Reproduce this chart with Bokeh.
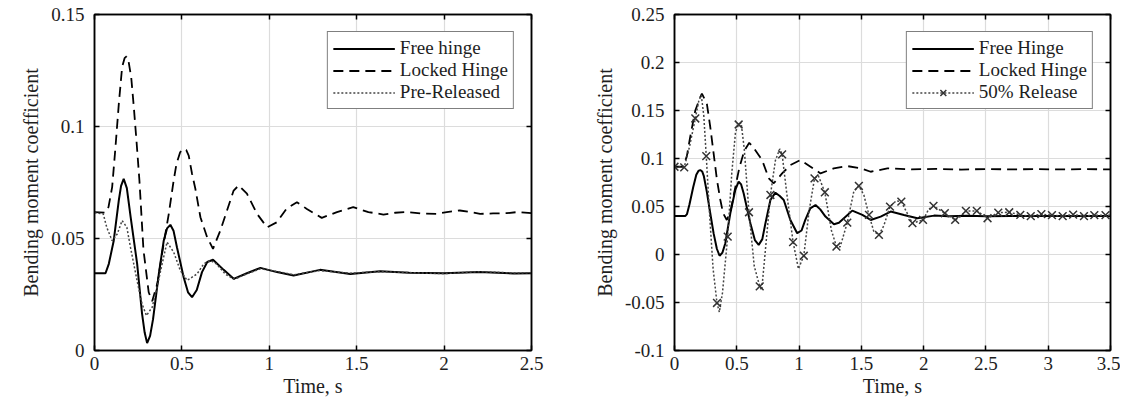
from bokeh.plotting import figure
from bokeh.models import FixedTicker, LinearAxis, Range1d
from bokeh.layouts import row
from bokeh.embed import file_html
from bokeh.resources import INLINE

# ---------------- data: left panel ----------------
left_xticks = [0, 0.5, 1, 1.5, 2, 2.5]
left_xlabels = ["0", "0.5", "1", "1.5", "2", "2.5"]
left_yticks = [0, 0.05, 0.1, 0.15]
left_ylabels = ["0", "0.05", "0.1", "0.15"]

left_free_t = [0, 0.063, 0.082, 0.11, 0.139, 0.152, 0.167, 0.185, 0.206, 0.244, 0.272, 0.287,
               0.301, 0.318, 0.335, 0.368, 0.396, 0.415, 0.434, 0.452, 0.472, 0.51, 0.535,
               0.558, 0.585, 0.615, 0.645, 0.678, 0.739, 0.796, 0.872, 0.949,
               1.044, 1.139, 1.29, 1.463, 1.634, 1.8, 2.0, 2.2, 2.4, 2.5]
left_free_v = [0.0345, 0.0345, 0.0387, 0.049, 0.067, 0.0735, 0.0766, 0.0725, 0.060, 0.0387,
               0.0165, 0.008, 0.0033, 0.0065, 0.014, 0.0342, 0.049, 0.0545, 0.0561, 0.0535,
               0.046, 0.0327, 0.026, 0.0238, 0.027, 0.035, 0.0395, 0.0405, 0.036,
               0.032, 0.0345, 0.0369, 0.035, 0.0335, 0.036, 0.0342, 0.0354, 0.0347, 0.0345,
               0.035, 0.0344, 0.0345]

left_locked_t = [0, 0.06, 0.08, 0.101, 0.12, 0.139, 0.158, 0.172, 0.183, 0.195, 0.21, 0.225,
                 0.24, 0.257, 0.28, 0.31, 0.33, 0.36, 0.39, 0.425, 0.453, 0.469, 0.49, 0.507,
                 0.525, 0.539, 0.558, 0.577, 0.606, 0.644, 0.678, 0.72, 0.758, 0.796, 0.825,
                 0.872, 0.93, 0.987, 1.044, 1.1, 1.158, 1.215, 1.30, 1.387, 1.48, 1.567, 1.653,
                 1.72, 1.787, 1.87, 1.958, 2.015, 2.09, 2.15, 2.206, 2.28, 2.358, 2.42, 2.5]
left_locked_v = [0.0618, 0.0615, 0.064, 0.0729, 0.0908, 0.110, 0.1265, 0.1305, 0.1313, 0.129,
                 0.122, 0.1086, 0.0938, 0.0759, 0.045, 0.026, 0.022, 0.030, 0.045, 0.061,
                 0.076, 0.0833, 0.0885, 0.090, 0.0895, 0.087, 0.0789, 0.0722, 0.0595, 0.0506,
                 0.0454, 0.0536, 0.0625, 0.0714, 0.0737, 0.070, 0.061, 0.055, 0.0573, 0.0635,
                 0.0662, 0.0632, 0.0592, 0.0618, 0.064, 0.0618, 0.0607, 0.0615, 0.0618,
                 0.0612, 0.061, 0.0618, 0.0625, 0.0618, 0.061, 0.0612, 0.0613, 0.0618, 0.0613]

left_pre_t = [0, 0.05, 0.07, 0.101, 0.13, 0.158, 0.185, 0.206, 0.244, 0.272, 0.297, 0.33,
              0.358, 0.387, 0.415, 0.453, 0.491, 0.53, 0.587, 0.625, 0.663, 0.70, 0.75, 0.80,
              0.87, 0.95, 1.05, 1.14, 1.29, 1.46, 1.63, 1.8, 2.0, 2.2, 2.4, 2.5]
left_pre_v = [0.0615, 0.061, 0.055, 0.049, 0.052, 0.058, 0.055, 0.046, 0.031, 0.0208, 0.0156,
              0.0193, 0.0283, 0.0387, 0.0484, 0.0439, 0.0357, 0.0313, 0.0342, 0.0387, 0.0402,
              0.0385, 0.034, 0.0318, 0.0342, 0.0365, 0.0352, 0.0338, 0.0357, 0.0345, 0.0352,
              0.0348, 0.0343, 0.0352, 0.0346, 0.0347]

# ---------------- data: right panel ----------------
right_xticks = [0, 0.5, 1, 1.5, 2, 2.5, 3, 3.5]
right_xlabels = ["0", "0.5", "1", "1.5", "2", "2.5", "3", "3.5"]
right_yticks = [-0.1, -0.05, 0, 0.05, 0.1, 0.15, 0.2, 0.25]
right_ylabels = ["-0.1", "-0.05", "0", "0.05", "0.1", "0.15", "0.2", "0.25"]

right_free_t = [0, 0.086, 0.10, 0.12, 0.15, 0.175, 0.192, 0.207, 0.222, 0.235, 0.26, 0.287,
                0.314, 0.34, 0.362, 0.385, 0.408, 0.448, 0.488, 0.515, 0.535, 0.555, 0.609,
                0.645, 0.676, 0.705, 0.73, 0.77, 0.81, 0.845, 0.877, 0.93, 0.985, 1.02, 1.05,
                1.09, 1.132, 1.17, 1.212, 1.28, 1.32, 1.36, 1.427, 1.508, 1.575, 1.655, 1.735,
                1.842, 1.95, 2.084, 2.2, 2.35, 2.5, 2.7, 2.9, 3.1, 3.3, 3.5]
right_free_v = [0.0402, 0.040, 0.042, 0.052, 0.070, 0.083, 0.087, 0.088, 0.0865, 0.082, 0.065,
                0.043, 0.022, 0.006, -0.0013, 0.002, 0.0118, 0.043, 0.0672, 0.0758, 0.073,
                0.0638, 0.0326, 0.015, 0.010, 0.016, 0.0326, 0.0568, 0.0644, 0.061, 0.0568,
                0.036, 0.0222, 0.025, 0.036, 0.048, 0.0516, 0.047, 0.0395, 0.0316, 0.033,
                0.0378, 0.0457, 0.0412, 0.036, 0.0395, 0.0447, 0.0412, 0.0378, 0.0405, 0.0398,
                0.0403, 0.0399, 0.0402, 0.040, 0.0401, 0.040, 0.040]

right_locked_t = [0, 0.072, 0.10, 0.126, 0.167, 0.207, 0.22, 0.26, 0.287, 0.314, 0.341, 0.368,
                  0.39, 0.42, 0.45, 0.48, 0.52, 0.56, 0.60, 0.63, 0.703, 0.757, 0.797, 0.864,
                  0.931, 1.011, 1.092, 1.172, 1.279, 1.387, 1.494, 1.575, 1.709, 1.9, 2.1, 2.3,
                  2.5, 2.7, 2.9, 3.1, 3.3, 3.5]
right_locked_v = [0.0914, 0.0914, 0.103, 0.1226, 0.150, 0.164, 0.1676, 0.157, 0.133, 0.1053,
                  0.0776, 0.0568, 0.043, 0.036, 0.045, 0.065, 0.090, 0.108, 0.1163, 0.112,
                  0.0984, 0.0794, 0.0742, 0.0845, 0.0932, 0.0984, 0.0914, 0.0845, 0.0897,
                  0.0921, 0.0897, 0.0862, 0.0897, 0.0887, 0.0892, 0.0885, 0.089, 0.0887,
                  0.0889, 0.0886, 0.0889, 0.0887]

right_rel_t = [0, 0.078, 0.12, 0.167, 0.195, 0.215, 0.235, 0.255, 0.28, 0.31, 0.341, 0.36,
               0.385, 0.427, 0.46, 0.49, 0.515, 0.535, 0.56, 0.598, 0.64, 0.684, 0.70, 0.73,
               0.77, 0.81, 0.845, 0.864, 0.90, 0.952, 0.995, 1.038, 1.08, 1.124, 1.155, 1.207,
               1.26, 1.30, 1.33, 1.387, 1.44, 1.48, 1.52, 1.561, 1.60, 1.641, 1.68, 1.73, 1.78,
               1.821, 1.86, 1.91, 1.995, 2.04, 2.079, 2.17, 2.253, 2.30, 2.339, 2.427, 2.513,
               2.599, 2.687, 2.776, 2.86, 2.945, 3.03, 3.116, 3.2, 3.287, 3.37, 3.46, 3.5]
right_rel_v = [0.0914, 0.0908, 0.112, 0.1417, 0.160, 0.166, 0.145, 0.1025, 0.045, -0.015,
               -0.0505, -0.060, -0.040, 0.0187, 0.085, 0.128, 0.1354, 0.137, 0.11, 0.044,
               -0.012, -0.0332, -0.037, 0.005, 0.062, 0.098, 0.110, 0.1043, 0.065, 0.0129,
               -0.015, -0.0013, 0.045, 0.0793, 0.082, 0.0648, 0.025, 0.0083, 0.008, 0.0332,
               0.066, 0.0714, 0.062, 0.0412, 0.024, 0.0205, 0.030, 0.0499, 0.056, 0.0551,
               0.045, 0.0326, 0.036, 0.047, 0.0506, 0.043, 0.036, 0.040, 0.0454, 0.0454,
               0.0378, 0.0436, 0.044, 0.0412, 0.040, 0.042, 0.041, 0.040, 0.0415, 0.040,
               0.041, 0.041, 0.041]

right_mark_t = [0, 0.078, 0.167, 0.255, 0.341, 0.427, 0.515, 0.598, 0.684, 0.77, 0.864, 0.952,
                1.038, 1.124, 1.207, 1.30, 1.387, 1.48, 1.561, 1.641, 1.73, 1.821, 1.91,
                1.995, 2.079, 2.17, 2.253, 2.339, 2.427, 2.513, 2.599, 2.687, 2.776, 2.86,
                2.945, 3.03, 3.116, 3.2, 3.287, 3.37, 3.46]
right_mark_v = [0.0914, 0.0908, 0.1417, 0.1025, -0.0505, 0.0187, 0.1354, 0.044, -0.0332,
                0.062, 0.1043, 0.0129, -0.0013, 0.0793, 0.0648, 0.0083, 0.0332, 0.0714,
                0.0412, 0.0205, 0.0499, 0.0551, 0.0326, 0.036, 0.0506, 0.043, 0.036, 0.0454,
                0.0454, 0.0378, 0.0436, 0.044, 0.0412, 0.040, 0.042, 0.041, 0.040, 0.0415,
                0.040, 0.041, 0.041]

FONT = "Liberation Serif"
TXT = "#1e1e1e"
FS = "19px"


def make_fig(xr, yr, xticks, xlabels, yticks, ylabels, fw, bl, br):
    p = figure(x_range=Range1d(*xr), y_range=Range1d(*yr), frame_width=fw, frame_height=336,
               min_border_left=bl, min_border_right=br, min_border_top=14, min_border_bottom=0,
               output_backend="svg", toolbar_location=None)
    p.outline_line_color = "black"
    p.outline_line_width = 1.5
    p.grid.grid_line_color = "#dcdcdc"
    p.grid.grid_line_width = 1.2
    p.xgrid.ticker = FixedTicker(ticks=xticks)
    p.ygrid.ticker = FixedTicker(ticks=yticks)
    for ax, ticks, labels in ((p.xaxis[0], xticks, xlabels), (p.yaxis[0], yticks, ylabels)):
        ax.ticker = FixedTicker(ticks=ticks)
        ax.major_label_overrides = dict(zip(ticks, labels))
        ax.major_tick_in = 5
        ax.major_tick_out = 0
        ax.minor_tick_line_color = None
        ax.axis_line_width = 1.5
        ax.major_tick_line_width = 1.5
        ax.major_label_text_font = FONT
        ax.major_label_text_font_size = FS
        ax.major_label_text_color = TXT
        ax.axis_label_text_font = FONT
        ax.axis_label_text_font_size = "20px"
        ax.axis_label_text_font_style = "normal"
        ax.axis_label_text_color = TXT
    p.xaxis.axis_label = "Time, s"
    p.yaxis.axis_label = "Bending moment coefficient"
    p.xaxis.major_label_standoff = 6
    p.xaxis.axis_label_standoff = 2
    p.yaxis.major_label_standoff = 10
    p.yaxis.axis_label_standoff = 6
    for loc, ticks in (("above", xticks), ("right", yticks)):
        ax = LinearAxis(ticker=FixedTicker(ticks=ticks), major_label_text_font_size="0px",
                        major_label_overrides={t: "" for t in ticks},
                        major_tick_in=5, major_tick_out=0, minor_tick_line_color=None,
                        axis_line_width=1.5, major_tick_line_width=1.5, major_label_standoff=0)
        p.add_layout(ax, loc)
    return p


def style_legend(p):
    lg = p.legend[0]
    lg.location = "top_right"
    lg.margin = 17
    lg.padding = 5
    lg.spacing = 0
    lg.glyph_width = 62
    lg.glyph_height = 21
    lg.label_height = 21
    lg.label_standoff = 5
    lg.label_text_font = FONT
    lg.label_text_font_size = FS
    lg.label_text_color = TXT
    lg.border_line_color = "black"
    lg.border_line_width = 1.5
    lg.background_fill_alpha = 1


p1 = make_fig((0, 2.5), (0, 0.15), left_xticks, left_xlabels, left_yticks, left_ylabels,
              437, 94, 40)
p1.line(left_free_t, left_free_v, line_color="black", line_width=2, legend_label="Free hinge")
p1.line(left_locked_t, left_locked_v, line_color="black", line_width=1.8, line_dash="10 6",
        legend_label="Locked Hinge")
p1.line(left_pre_t, left_pre_v, line_color="#444444", line_width=1.5, line_dash="2 2",
        legend_label="Pre-Released")
style_legend(p1)

p2 = make_fig((0, 3.5), (-0.1, 0.25), right_xticks, right_xlabels, right_yticks, right_ylabels,
              436, 103, 10)
p2.line(right_free_t, right_free_v, line_color="black", line_width=2, legend_label="Free Hinge")
p2.line(right_locked_t, right_locked_v, line_color="black", line_width=1.8, line_dash="10 6",
        legend_label="Locked Hinge")
p2.line(right_rel_t, right_rel_v, line_color="#444444", line_width=1.5, line_dash="2 2",
        legend_label="50% Release")
p2.scatter(right_mark_t, right_mark_v, marker="x", size=11, line_color="#333333",
           line_width=1.5, legend_label="50% Release")
style_legend(p2)

layout = row(p1, p2)
open("out.html", "w").write(file_html(layout, INLINE))
